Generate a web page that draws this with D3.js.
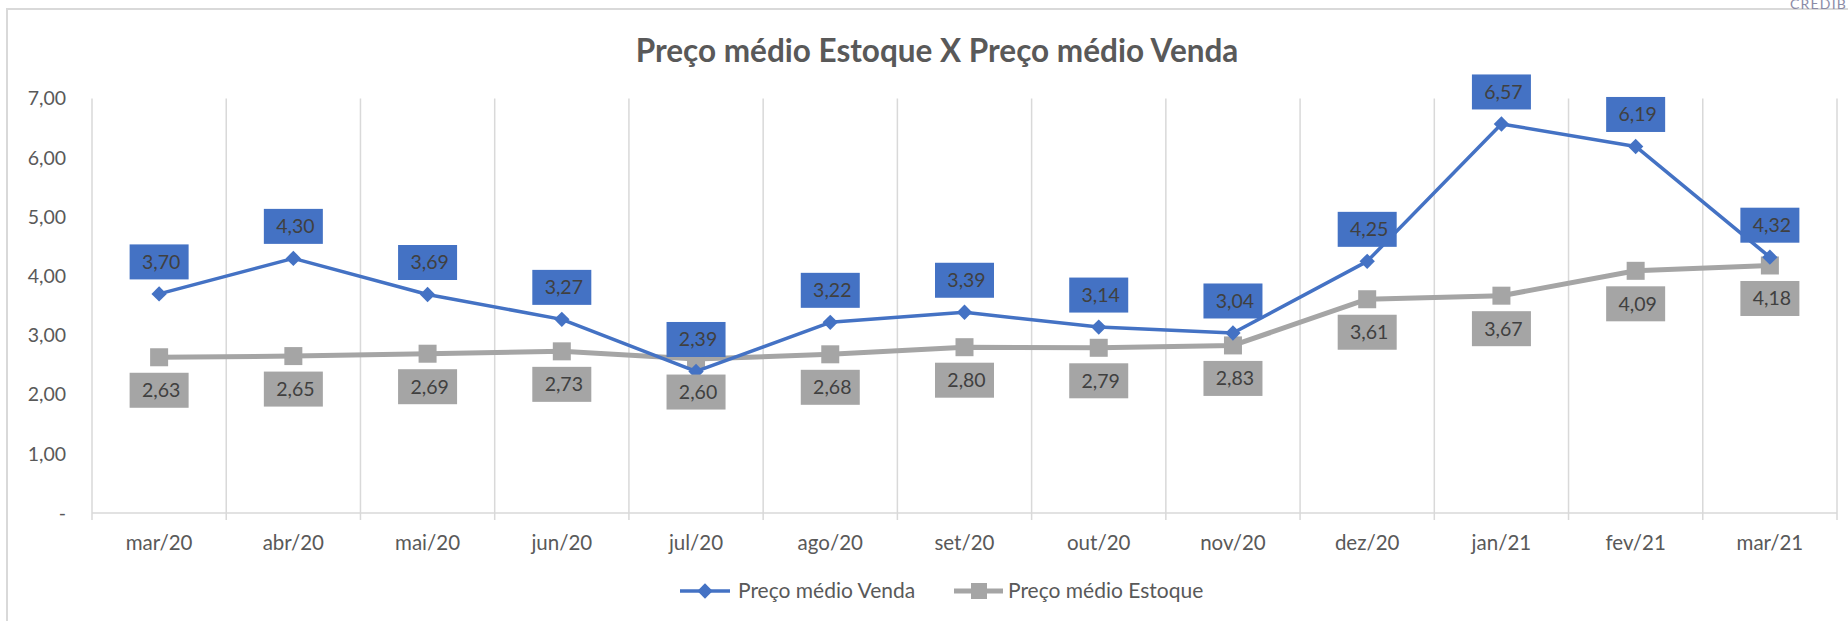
<!DOCTYPE html>
<html>
<head>
<meta charset="utf-8">
<script src="https://cdn.jsdelivr.net/npm/d3@7"></script>
<style>
  body { margin: 0; background: #fff; }
  svg { display: block; }
  text { font-family: Lato, "Open Sans", sans-serif; }
</style>
</head>
<body>
<svg id="chart" width="1848" height="621"></svg>
<script>
// categories and series values
const months = ['mar/20', 'abr/20', 'mai/20', 'jun/20', 'jul/20', 'ago/20', 'set/20',
                'out/20', 'nov/20', 'dez/20', 'jan/21', 'fev/21', 'mar/21'];
const venda = [3.70, 4.30, 3.69, 3.27, 2.39, 3.22, 3.39, 3.14, 3.04, 4.25, 6.57, 6.19, 4.32];
const estoque = [2.63, 2.65, 2.69, 2.73, 2.60, 2.68, 2.80, 2.79, 2.83, 3.61, 3.67, 4.09, 4.18];
const yTicks = [0, 1, 2, 3, 4, 5, 6, 7];
const yTickLabels = ['-', '1,00', '2,00', '3,00', '4,00', '5,00', '6,00', '7,00'];
const seriesNames = ['Preço médio Venda', 'Preço médio Estoque'];

const blue = '#4472C4', grey = '#A5A5A5', gridCol = '#D9D9D9';

const svg = d3.select('#chart');

// outer chart border (only top and left show in the shot)
svg.append('rect')
    .attr('x', 7).attr('y', 9)
    .attr('width', 1900).attr('height', 700)
    .attr('fill', 'none')
    .attr('stroke', gridCol)
    .attr('stroke-width', 2);

svg.append('text')
    .attr('x', 1790).attr('y', 9)
    .attr('font-size', 14)
    .attr('letter-spacing', 1.2)
    .attr('fill', '#8b8ba6')
    .text('CREDIB');

// scales
const x = d3.scaleBand().domain(months).range([92, 1837]).padding(0);
const y = d3.scaleLinear().domain([0, 7]).range([513, 98.5]);
const fmt = v => v.toFixed(2).replace('.', ',');

// title
svg.append('text')
    .attr('x', 937).attr('y', 62)
    .attr('text-anchor', 'middle')
    .attr('font-size', 31.5)
    .attr('font-weight', 'bold')
    .attr('fill', '#595959')
    .text('Preço médio Estoque X Preço médio Venda');

// vertical gridlines on the category boundaries
const bounds = months.map(m => x(m)).concat([x.range()[1]]);
svg.append('g').selectAll('line')
    .data(bounds)
    .enter().append('line')
    .attr('x1', d => d).attr('x2', d => d)
    .attr('y1', y(7)).attr('y2', y(0) + 7)
    .attr('stroke', gridCol)
    .attr('stroke-width', 1.5);

// baseline
svg.append('line')
    .attr('x1', x.range()[0]).attr('x2', x.range()[1])
    .attr('y1', y(0)).attr('y2', y(0))
    .attr('stroke', gridCol)
    .attr('stroke-width', 1.5);

// y axis labels
svg.append('g').selectAll('text')
    .data(yTicks)
    .enter().append('text')
    .attr('x', 66)
    .attr('y', d => y(d))
    .attr('dy', '0.35em')
    .attr('text-anchor', 'end')
    .attr('font-size', 19.5)
    .attr('fill', '#595959')
    .text((d, i) => yTickLabels[i]);

// x axis labels
svg.append('g').selectAll('text')
    .data(months)
    .enter().append('text')
    .attr('x', d => x(d) + x.bandwidth() / 2)
    .attr('y', 543)
    .attr('dy', '0.35em')
    .attr('text-anchor', 'middle')
    .attr('font-size', 20.5)
    .attr('fill', '#595959')
    .text(d => d);

const cx = (d, i) => x(months[i]) + x.bandwidth() / 2;
const line = d3.line().x(cx).y(d => y(d));

// Estoque series
svg.append('path')
    .datum(estoque)
    .attr('d', line)
    .attr('fill', 'none')
    .attr('stroke', grey)
    .attr('stroke-width', 5)
    .attr('stroke-linejoin', 'round');

svg.append('g').selectAll('rect')
    .data(estoque)
    .enter().append('rect')
    .attr('x', (d, i) => cx(d, i) - 9)
    .attr('y', d => y(d) - 9)
    .attr('width', 18).attr('height', 18)
    .attr('fill', grey);

// Venda series
svg.append('path')
    .datum(venda)
    .attr('d', line)
    .attr('fill', 'none')
    .attr('stroke', blue)
    .attr('stroke-width', 3.5)
    .attr('stroke-linejoin', 'round');

const diamond = d3.symbol().type(d3.symbolDiamond2).size(150);
svg.append('g').selectAll('path')
    .data(venda)
    .enter().append('path')
    .attr('d', diamond)
    .attr('transform', (d, i) => 'translate(' + cx(d, i) + ',' + y(d) + ')')
    .attr('fill', blue);

// data label boxes
function labels(data, offset, fill) {
    const g = svg.append('g').selectAll('g')
        .data(data)
        .enter().append('g')
        .attr('transform', (d, i) => 'translate(' + cx(d, i) + ',' + (y(d) + offset) + ')');
    g.append('rect')
        .attr('x', -29.5).attr('y', -17.5)
        .attr('width', 59).attr('height', 35)
        .attr('fill', fill);
    g.append('text')
        .attr('x', 2)
        .attr('dy', '0.35em')
        .attr('text-anchor', 'middle')
        .attr('font-size', 19.5)
        .attr('fill', '#404040')
        .text(d => fmt(d));
}
labels(venda, -32, blue);
labels(estoque, 33, grey);

// legend
const legend = svg.append('g');
legend.append('line')
    .attr('x1', 680).attr('x2', 730).attr('y1', 591).attr('y2', 591)
    .attr('stroke', blue).attr('stroke-width', 3.5);
legend.append('path')
    .attr('d', diamond)
    .attr('transform', 'translate(705,591)')
    .attr('fill', blue);
legend.append('text')
    .attr('x', 738).attr('y', 591).attr('dy', '0.35em')
    .attr('font-size', 21).attr('fill', '#595959')
    .text(seriesNames[0]);

legend.append('line')
    .attr('x1', 954).attr('x2', 1003).attr('y1', 591).attr('y2', 591)
    .attr('stroke', grey).attr('stroke-width', 5);
legend.append('rect')
    .attr('x', 971).attr('y', 583).attr('width', 16).attr('height', 16)
    .attr('fill', grey);
legend.append('text')
    .attr('x', 1008).attr('y', 591).attr('dy', '0.35em')
    .attr('font-size', 21).attr('fill', '#595959')
    .text(seriesNames[1]);
</script>
</body>
</html>
